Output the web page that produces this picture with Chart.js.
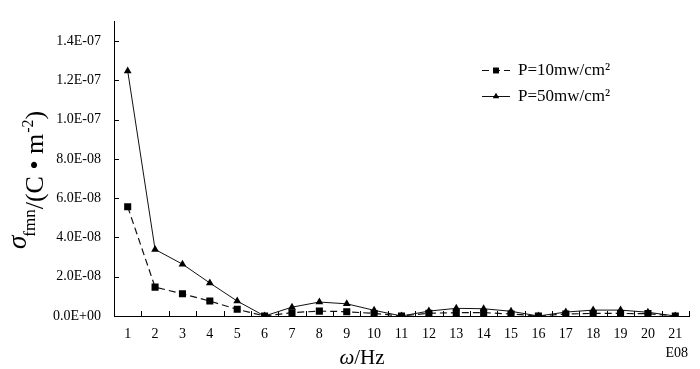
<!DOCTYPE html>
<html>
<head>
<meta charset="utf-8">
<script src="https://cdn.jsdelivr.net/npm/chart.js@4/dist/chart.umd.min.js"></script>
<style>
  html, body { margin: 0; padding: 0; background: #fff; }
</style>
</head>
<body>
<canvas id="chart" width="700" height="369"></canvas>
<script>
// frequency categories (x 1E08 Hz)
const categories = ['1', '2', '3', '4', '5', '6', '7', '8', '9', '10', '11', '12', '13', '14', '15', '16', '17', '18', '19', '20', '21'];

// sigma_fmn for P = 10 mw/cm2
const p10 = [5.56e-8, 1.47e-8, 1.13e-8, 7.6e-9, 3.4e-9, 0, 1.7e-9, 2.5e-9, 2.2e-9, 1.3e-9, 0,
             1.4e-9, 1.7e-9, 1.7e-9, 1.0e-9, 0, 1.0e-9, 1.3e-9, 1.3e-9, 1.2e-9, 0];
// sigma_fmn for P = 50 mw/cm2
const p50 = [1.248e-7, 3.39e-8, 2.64e-8, 1.68e-8, 7.6e-9, 0, 4.5e-9, 7.1e-9, 6.2e-9, 2.9e-9, 0,
             2.5e-9, 3.9e-9, 3.7e-9, 2.4e-9, 0, 2.0e-9, 3.0e-9, 3.0e-9, 1.9e-9, 0];

const yTickValues = [0, 2e-8, 4e-8, 6e-8, 8e-8, 1.0e-7, 1.2e-7, 1.4e-7];
const seriesNames = ['P=10mw/cm\u00b2', 'P=50mw/cm\u00b2'];

const serif = '"Liberation Serif", "DejaVu Serif", serif';

function sciLabel(v) {
  if (v === 0) return '0.0E+00';
  const parts = v.toExponential(1).split('e');
  const e = parseInt(parts[1], 10);
  return parts[0] + 'E' + (e < 0 ? '-' : '+') + String(Math.abs(e)).padStart(2, '0');
}

// inward tick marks, legend and axis titles
const decorations = {
  id: 'decorations',
  afterDraw(chart) {
    const ctx = chart.ctx;
    const x = chart.scales.x, y = chart.scales.y;
    const area = chart.chartArea;
    ctx.save();
    ctx.strokeStyle = '#000';
    ctx.lineWidth = 1;
    ctx.beginPath();
    yTickValues.forEach(v => {
      const py = Math.round(y.getPixelForValue(v)) + 0.5;
      ctx.moveTo(area.left, py);
      ctx.lineTo(area.left + 5, py);
    });
    for (let i = 1; i <= categories.length; i++) {
      const px = Math.round(x.getPixelForValue(i - 0.5)) + 0.5;
      ctx.moveTo(px, area.bottom);
      ctx.lineTo(px, area.bottom - 5);
    }
    ctx.stroke();

    // legend
    const lx = 482, rows = [70, 96];
    chart.data.datasets.forEach((ds, i) => {
      const ly = rows[i] + 0.5;
      ctx.beginPath();
      ctx.setLineDash(ds.borderDash || []);
      ctx.lineWidth = ds.borderWidth;
      ctx.strokeStyle = ds.borderColor;
      ctx.moveTo(lx, ly);
      ctx.lineTo(lx + 28, ly);
      ctx.stroke();
      ctx.setLineDash([]);
      ctx.fillStyle = ds.pointBackgroundColor;
      Chart.helpers.drawPoint(ctx, { pointStyle: ds.pointStyle, radius: ds.pointRadius - 0.8, borderWidth: 0 }, lx + 14, ly);
      ctx.fillStyle = '#000';
      ctx.font = '17px ' + serif;
      ctx.textBaseline = 'middle';
      ctx.textAlign = 'left';
      ctx.fillText(seriesNames[i], lx + 36, ly);
    });

    // x unit
    ctx.font = '14px ' + serif;
    ctx.textAlign = 'right';
    ctx.textBaseline = 'alphabetic';
    ctx.fillText('E08', 688, 357);

    // x title: ω/Hz
    ctx.textAlign = 'left';
    ctx.font = 'italic 21px ' + serif;
    const wW = ctx.measureText('\u03c9').width;
    ctx.font = '21px ' + serif;
    const hW = ctx.measureText('/Hz').width;
    let sx = 362 - (wW + hW) / 2;
    ctx.font = 'italic 21px ' + serif;
    ctx.fillText('\u03c9', sx, 364);
    ctx.font = '21px ' + serif;
    ctx.fillText('/Hz', sx + wW, 364);

    // y title: σ_fmn/(C • m^-2), rotated; rotated coords (x', y') = (-y, x)
    ctx.rotate(-Math.PI / 2);
    let t = -249;
    ctx.font = 'italic 27px ' + serif;
    ctx.fillText('\u03c3', t, 26);
    t += ctx.measureText('\u03c3').width - 1;
    ctx.font = '17px ' + serif;
    ctx.fillText('fmn', t, 35);
    t += ctx.measureText('fmn').width;
    ctx.font = '26px ' + serif;
    ctx.fillText('/(C \u2022 m', t, 43);
    t += ctx.measureText('/(C \u2022 m').width + 1;
    ctx.font = '16px ' + serif;
    ctx.fillText('-2', t, 33);
    t += ctx.measureText('-2').width;
    ctx.font = '26px ' + serif;
    ctx.fillText(')', t, 43);
    ctx.restore();
  }
};

new Chart(document.getElementById('chart'), {
  type: 'line',
  plugins: [decorations],
  data: {
    labels: categories,
    datasets: [
      {
        label: seriesNames[0],
        data: p10,
        borderColor: '#111',
        borderWidth: 1.2,
        borderDash: [7, 4],
        pointStyle: 'rect',
        pointRadius: 5,
        pointBackgroundColor: '#000',
        pointBorderWidth: 0,
        tension: 0,
      },
      {
        label: seriesNames[1],
        data: p50,
        borderColor: '#111',
        borderWidth: 1,
        pointStyle: 'triangle',
        pointRadius: 4.5,
        pointBackgroundColor: '#000',
        pointBorderWidth: 0,
        tension: 0,
      }
    ]
  },
  options: {
    responsive: false,
    animation: false,
    layout: {
      padding: { left: 0, right: 11, top: 18, bottom: 0 }
    },
    plugins: {
      legend: { display: false },
      tooltip: { enabled: false },
    },
    scales: {
      x: {
        offset: true,
        border: { display: true, color: '#000', width: 1 },
        grid: { display: false, drawTicks: false },
        ticks: {
          color: '#000',
          padding: 10,
          maxRotation: 0,
          autoSkip: false,
          font: { family: serif, size: 14 },
        },
        afterFit(scale) { scale.height = 53; },
      },
      y: {
        min: 0,
        max: 1.5e-7,
        border: { display: true, color: '#000', width: 1 },
        grid: { display: false, drawTicks: false },
        ticks: {
          color: '#000',
          padding: 13,
          font: { family: serif, size: 14 },
          callback: v => sciLabel(v),
        },
        afterBuildTicks(scale) {
          scale.ticks = yTickValues.map(v => ({ value: v }));
        },
        afterFit(scale) { scale.width = 114; },
      }
    }
  }
});
</script>
</body>
</html>
